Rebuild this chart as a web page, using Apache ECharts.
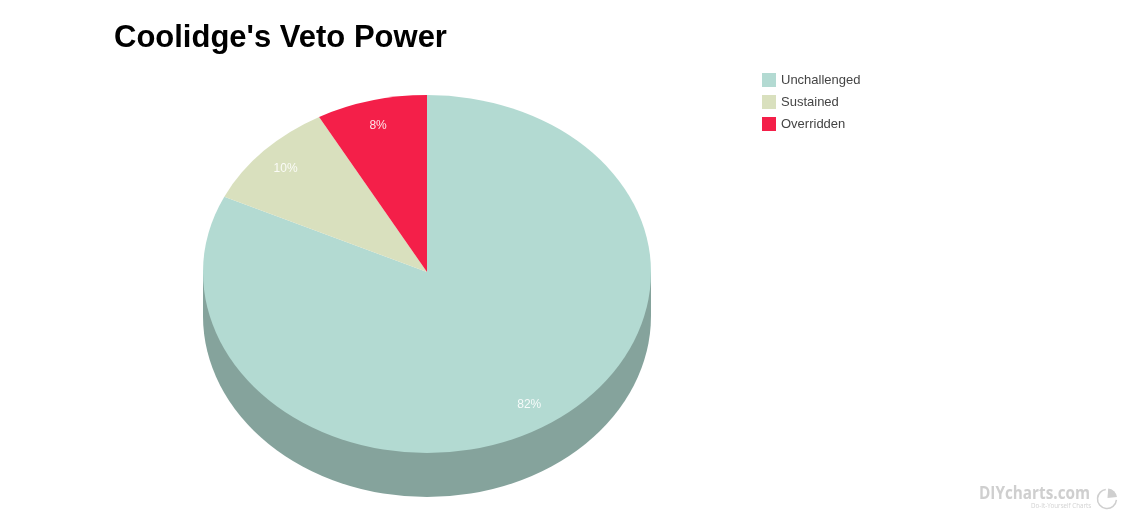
<!DOCTYPE html>
<html>
<head>
<meta charset="utf-8">
<style>html,body{margin:0;padding:0;background:#fff}#c{width:1127px;height:520px}</style>
<script src="https://cdn.jsdelivr.net/npm/echarts@6/dist/echarts.min.js"></script>
</head>
<body>
<div id="c"></div>
<script>
const categories = ['Unchallenged', 'Sustained', 'Overridden'];
const shares = [82, 10, 8];
const colors = ['#B3DAD2', '#D9E0BE', '#F41F49'];
const wallColor = '#85A39C';
const chartTitle = "Coolidge's Veto Power";

const CX = 427, CY = 272, RX = 224, RY_UP = 177, RY_DOWN = 181, DEPTH = 44, LABEL_R = 0.86;
const total = shares.reduce((a, b) => a + b, 0);

function sectorPiece(a, b, ry, fill, cy) {
  return {
    type: 'sector', x: CX, y: cy, scaleY: ry / RX,
    shape: { cx: 0, cy: 0, r0: 0, r: RX, startAngle: a, endAngle: b, clockwise: true },
    style: { fill: fill }
  };
}

function renderSlice(index) {
  return function (params, api) {
    const value = api.value(0);
    const before = shares.slice(0, index).reduce((a, b) => a + b, 0);
    const start = -Math.PI / 2 + before / total * Math.PI * 2;
    const end = start + value / total * Math.PI * 2;
    const mid = (start + end) / 2;
    const children = [];
    if (index === 0) {
      children.push(sectorPiece(0, Math.PI, RY_DOWN, wallColor, CY + DEPTH));
      children.push({
        type: 'rect',
        shape: { x: CX - RX, y: CY, width: RX * 2, height: DEPTH },
        style: { fill: wallColor }
      });
    }
    // the upper half of the ellipse is slightly flatter than the lower half
    const bands = [[-Math.PI / 2, 0, RY_UP], [0, Math.PI, RY_DOWN], [Math.PI, Math.PI * 1.5, RY_UP]];
    bands.forEach(function (band) {
      const a = Math.max(start, band[0]);
      const b = Math.min(end, band[1]);
      if (b > a) {
        children.push(sectorPiece(a, b, band[2], colors[index], CY));
      }
    });
    const labelRy = Math.sin(mid) > 0 ? RY_DOWN : RY_UP;
    children.push({
      type: 'text', z2: 10,
      x: CX + Math.cos(mid) * RX * LABEL_R - 1,
      y: CY + Math.sin(mid) * labelRy * LABEL_R + 1,
      style: {
        text: Math.round(value / total * 100) + '%',
        fill: 'rgba(255,255,255,0.88)',
        font: '12px "Liberation Sans", Arial, sans-serif',
        align: 'center', verticalAlign: 'middle'
      }
    });
    return { type: 'group', children: children };
  };
}

const chart = echarts.init(document.getElementById('c'), null, { renderer: 'canvas' });
chart.setOption({
  animation: false,
  backgroundColor: '#ffffff',
  title: {
    text: chartTitle, left: 114, top: 23, padding: 0,
    textStyle: { color: '#000', fontFamily: '"Liberation Sans", Arial, sans-serif', fontSize: 31, fontWeight: 'bold' }
  },
  legend: {
    orient: 'vertical', left: 762, top: 73, padding: 0,
    itemWidth: 14, itemHeight: 14, itemGap: 8,
    icon: 'rect',
    selectedMode: false,
    data: categories,
    textStyle: { color: '#444', fontFamily: '"Liberation Sans", Arial, sans-serif', fontSize: 13 }
  },
  series: categories.map((name, i) => ({
    type: 'custom',
    name: name,
    coordinateSystem: 'none',
    silent: true,
    itemStyle: { color: colors[i] },
    data: [[shares[i]]],
    renderItem: renderSlice(i)
  })),
  graphic: [
    { type: 'text', x: 979, y: 486, scaleX: 0.9, silent: true,
      style: { text: 'DIYcharts.com', fill: '#cfcfcf', font: 'bold 17px "Open Sans", sans-serif' } },
    { type: 'text', x: 1031, y: 503, silent: true,
      style: { text: 'Do-It-Yourself Charts', fill: '#d2d2d2', font: '6.2px "Open Sans", sans-serif' } },
    { type: 'arc', silent: true,
      shape: { cx: 1107, cy: 499, r: 9.5, startAngle: 0.1, endAngle: -1.7, clockwise: true },
      style: { stroke: '#cfcfcf', fill: null, lineWidth: 1.5 } },
    { type: 'sector', silent: true,
      shape: { cx: 1107.5, cy: 498, r0: 0, r: 9.5, startAngle: -1.5, endAngle: -0.1, clockwise: true },
      style: { fill: '#cfcfcf' } }
  ]
});
</script>
</body>
</html>
